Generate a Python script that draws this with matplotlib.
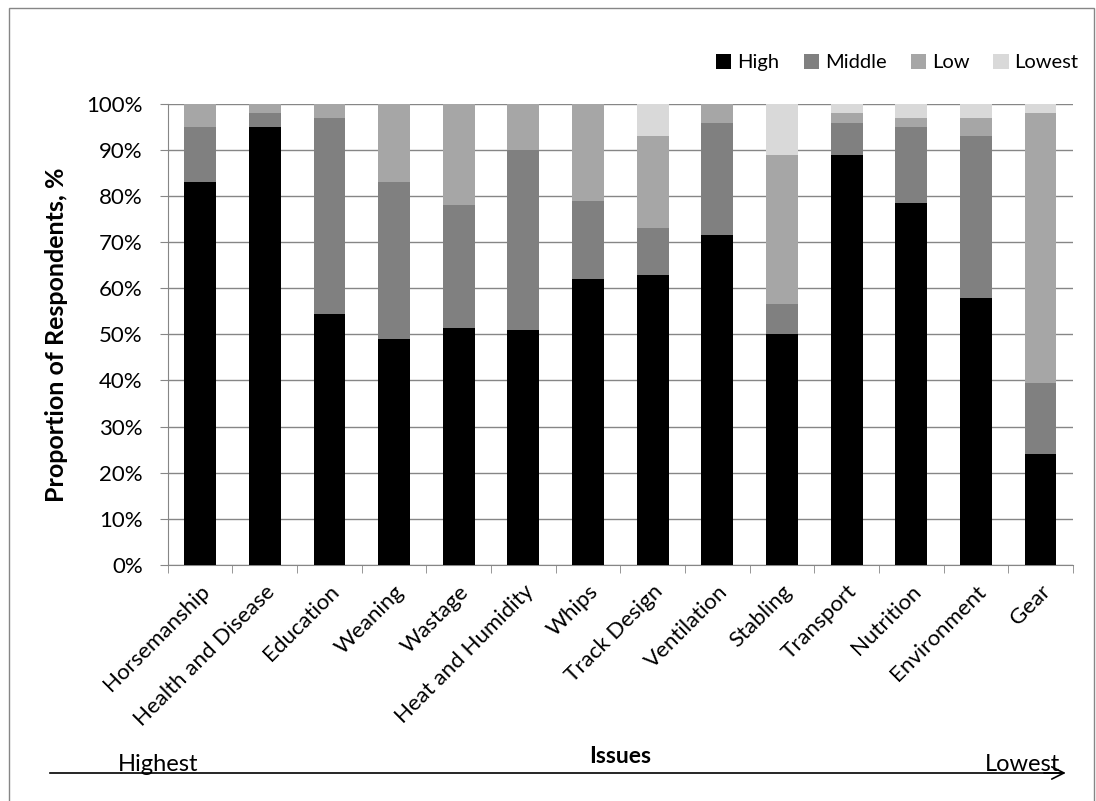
import matplotlib.pyplot as plt
import matplotlib.transforms as mtransforms
import numpy as np
from matplotlib.patches import Rectangle

plt.rcParams['font.family'] = ['Lato', 'DejaVu Sans']

issues = ['Horsemanship', 'Health and Disease', 'Education', 'Weaning', 'Wastage',
          'Heat and Humidity', 'Whips', 'Track Design', 'Ventilation', 'Stabling',
          'Transport', 'Nutrition', 'Environment', 'Gear']
high = [83, 95, 54.5, 49, 51.5, 51, 62, 63, 71.5, 50, 89, 78.5, 58, 24]
middle = [12, 3, 42.5, 34, 26.5, 39, 17, 10, 24.5, 6.5, 7, 16.5, 35, 15.5]
low = [5, 2, 3, 17, 22, 10, 21, 20, 4, 32.5, 2, 2, 4, 58.5]
lowest = [0, 0, 0, 0, 0, 0, 0, 7, 0, 11, 2, 3, 3, 2]

series = [('High', high, '#000000'), ('Middle', middle, '#808080'),
          ('Low', low, '#a6a6a6'), ('Lowest', lowest, '#d9d9d9')]

fig = plt.figure(figsize=(10.96, 8.01), dpi=100)
ax = fig.add_axes([0.153, 0.295, 0.826, 0.575])

x = np.arange(len(issues))
bottom = np.zeros(len(issues))
for name, vals, col in series:
    vals = np.array(vals, dtype=float)
    ax.bar(x, vals, 0.49, bottom=bottom, color=col, label=name, zorder=3)
    bottom += vals

ax.set_xlim(-0.5, len(issues) - 0.5)
ax.set_ylim(0, 100)
ax.set_yticks(np.arange(0, 101, 10))
ax.set_yticklabels([f'{v}%' for v in range(0, 101, 10)], fontsize=16)
ax.set_xticks(x)
ax.set_xticklabels(issues, rotation=45, ha='right', rotation_mode='anchor', fontsize=16)
shift = mtransforms.ScaledTranslation(-6 / 100, 0, fig.dpi_scale_trans)
for lbl in ax.get_xticklabels():
    lbl.set_transform(lbl.get_transform() + shift)
ax.set_xticks(np.arange(-0.5, len(issues)), minor=True)
ax.tick_params(axis='x', which='major', length=0, pad=12)
ax.tick_params(axis='x', which='minor', length=6, color='#868686')
ax.tick_params(axis='y', length=6, color='#868686', pad=12)
ax.grid(axis='y', color='#868686', linewidth=1, zorder=0)
for s in ['top', 'right']:
    ax.spines[s].set_visible(False)
for s in ['left', 'bottom']:
    ax.spines[s].set_color('#868686')
ax.set_ylabel('Proportion of Respondents, %', fontsize=18, fontweight='bold')
ax.yaxis.set_label_coords(-0.11, 0.5)

fig.legend(*ax.get_legend_handles_labels(), loc='center right',
           bbox_to_anchor=(0.997, 0.922), ncol=4, frameon=False,
           fontsize=14.5, handlelength=0.75, handleheight=0.75, handletextpad=0.3,
           columnspacing=1.2, borderpad=0.2)

fig.text(0.566, 0.055, 'Issues', ha='center', va='center', fontsize=16.5, fontweight='bold')
fig.text(0.108, 0.0375, 'Highest', ha='left', va='baseline', fontsize=17)
fig.text(0.967, 0.0375, 'Lowest', ha='right', va='baseline', fontsize=17)
fig.add_artist(plt.Line2D([0.046, 0.97], [0.035, 0.035], color='black', lw=1.2))
ax.annotate('', xy=(0.975, 0.035), xytext=(0.95, 0.035), xycoords='figure fraction',
            arrowprops=dict(arrowstyle='->', color='black', lw=1.2, mutation_scale=22))

fig.add_artist(Rectangle((0.008, -0.01), 0.99, 1.0, transform=fig.transFigure,
                         fill=False, edgecolor='#868686', lw=1))

fig.savefig('out.png', dpi=100)
